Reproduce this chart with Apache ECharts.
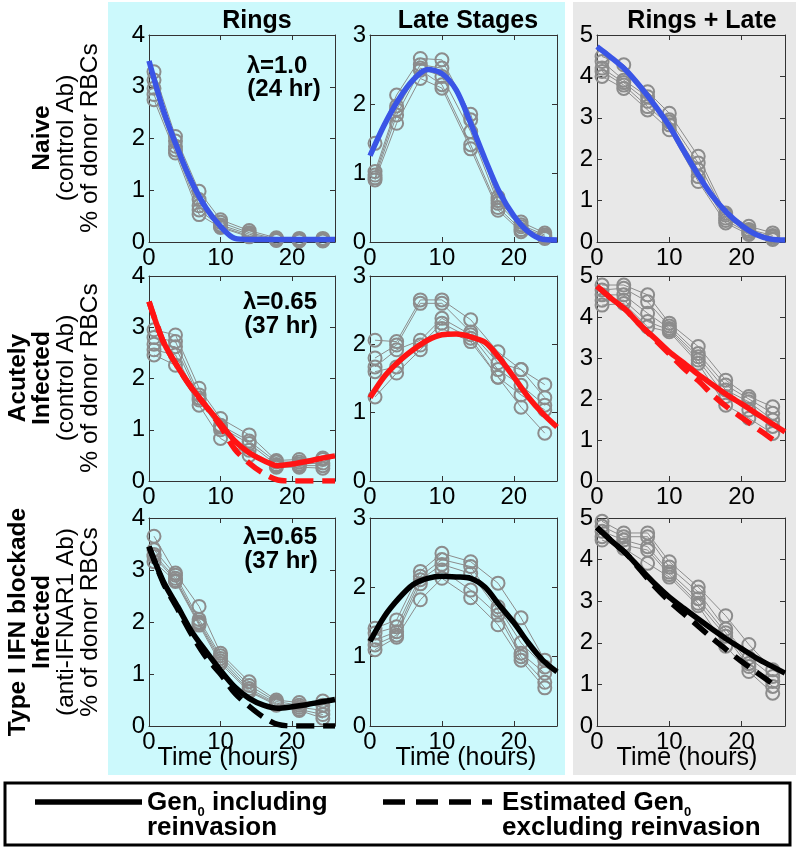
<!DOCTYPE html>
<html><head><meta charset="utf-8">
<script src="https://cdn.jsdelivr.net/npm/echarts@6/dist/echarts.min.js"></script>
<style>html,body{margin:0;padding:0;background:#fff}#c{width:796px;height:848px}</style>
</head><body><div id="c"></div>
<script>
// ---------- data ----------
const sampleTimes = [0.7, 3.7, 7, 10, 14, 17.8, 21, 24.3];
const fitTimes = [0, 2, 4, 6, 8, 10, 12, 14, 16, 18, 20, 22, 24, 26];
const totalDashTimes = [0, 2, 4, 6, 8, 10, 12, 14, 16, 18, 20, 22, 24, 25];
const xTicks = [0, 10, 20];
const yMaxByColumn = [4, 3, 5];
const columnTitles = ['Rings', 'Late Stages', 'Rings + Late'];
const lambdaLabels = [['λ=1.0', '(24 hr)'], ['λ=0.65', '(37 hr)'], ['λ=0.65', '(37 hr)']];

// replicate values: one inner list per sample time (5 mice)
const ringsNaive = [[3.29,3.13,2.97,2.85,2.75],[2.04,1.95,1.85,1.78,1.72],[0.98,0.82,0.70,0.62,0.53],[0.43,0.38,0.33,0.30,0.28],[0.22,0.18,0.15,0.12,0.10],[0.08,0.06,0.05,0.04,0.03],[0.07,0.05,0.04,0.03,0.02],[0.07,0.05,0.04,0.03,0.02]];
const lateNaive = [[1.43,1.02,0.97,0.93,0.90],[2.13,1.97,1.92,1.84,1.72],[2.66,2.57,2.52,2.49,2.37],[2.64,2.52,2.40,2.28,2.23],[1.85,1.77,1.60,1.41,1.35],[0.65,0.60,0.56,0.50,0.46],[0.29,0.25,0.22,0.18,0.15],[0.13,0.10,0.08,0.06,0.05]];
const totalNaive = [[4.48,4.36,4.20,4.12,4.00],[4.28,3.91,3.85,3.79,3.71],[3.63,3.51,3.40,3.27,3.19],[3.11,2.95,2.90,2.83,2.71],[2.07,1.91,1.74,1.58,1.46],[0.70,0.65,0.58,0.52,0.46],[0.38,0.30,0.26,0.22,0.18],[0.22,0.16,0.12,0.08,0.06]];
const ringsAcute = [[2.95,2.80,2.67,2.56,2.46],[2.85,2.72,2.62,2.46,2.26],[1.81,1.68,1.62,1.58,1.48],[1.22,1.09,1.05,1.00,0.83],[0.90,0.78,0.73,0.60,0.50],[0.40,0.37,0.32,0.30,0.27],[0.42,0.37,0.33,0.30,0.27],[0.45,0.42,0.35,0.30,0.25]];
const lateAcute = [[2.06,1.80,1.67,1.60,1.23],[2.04,1.99,1.92,1.67,1.58],[2.65,2.60,2.06,1.99,1.92],[2.65,2.60,2.38,2.31,2.23],[2.36,2.18,2.14,2.09,2.04],[1.89,1.73,1.63,1.52,1.52],[1.63,1.63,1.40,1.26,1.08],[1.41,1.22,1.11,1.04,0.70]];
const totalAcute = [[4.78,4.66,4.54,4.41,4.29],[4.78,4.70,4.54,4.41,4.33],[4.54,4.37,4.09,3.89,3.76],[3.85,3.78,3.72,3.68,3.64],[3.28,3.11,3.03,2.95,2.87],[2.46,2.34,2.22,2.06,1.85],[2.06,2.00,1.93,1.73,1.53],[1.81,1.65,1.49,1.33,1.16]];
const ringsIFN = [[3.65,3.39,3.30,3.26,3.16],[2.94,2.90,2.84,2.80,2.78],[2.30,2.05,2.00,1.97,1.94],[1.40,1.35,1.30,1.25,1.20],[0.85,0.78,0.72,0.68,0.66],[0.50,0.47,0.44,0.42,0.40],[0.45,0.40,0.36,0.32,0.30],[0.48,0.40,0.30,0.22,0.15]];
const lateIFN = [[1.41,1.34,1.24,1.17,1.10],[1.53,1.43,1.36,1.31,1.28],[2.23,2.16,2.11,2.05,1.82],[2.49,2.40,2.33,2.25,2.13],[2.37,2.30,2.20,1.96,1.85],[2.06,1.72,1.67,1.60,1.46],[1.56,1.20,1.05,1.00,0.95],[0.95,0.85,0.76,0.63,0.55]];
const totalIFN = [[4.92,4.80,4.68,4.55,4.47],[4.64,4.55,4.47,4.35,4.27],[4.64,4.55,4.31,4.23,3.91],[3.95,3.82,3.70,3.64,3.58],[3.34,3.22,3.06,2.95,2.89],[2.65,2.33,2.24,2.16,1.92],[1.96,1.64,1.50,1.43,1.31],[1.35,1.19,1.07,0.95,0.79]];

// model curves (Gen0 including reinvasion) at fitTimes
const ringsNaiveFit = [3.50,2.55,1.80,1.15,0.65,0.30,0.07,0.05,0.05,0.05,0.05,0.05,0.05,0.05];
const lateNaiveFit = [1.25,1.70,2.07,2.35,2.50,2.44,2.20,1.72,1.20,0.72,0.38,0.15,0.04,0.03];
const totalNaiveFit = [4.72,4.45,4.15,3.75,3.30,2.80,2.20,1.62,1.10,0.70,0.40,0.18,0.07,0.05];
const ringsAcuteFit = [3.50,2.72,2.23,1.81,1.46,1.12,0.78,0.55,0.40,0.30,0.33,0.38,0.44,0.49];
const lateAcuteFit = [1.22,1.53,1.75,1.92,2.06,2.14,2.15,2.11,2.03,1.80,1.52,1.23,0.99,0.79];
const totalAcuteFit = [4.75,4.45,4.17,3.80,3.48,3.15,2.88,2.60,2.35,2.10,1.88,1.65,1.42,1.20];
const ringsIFNFit = [3.45,2.78,2.30,1.81,1.43,1.07,0.75,0.53,0.40,0.34,0.37,0.41,0.46,0.51];
const lateIFNFit = [1.22,1.58,1.84,2.04,2.13,2.16,2.15,2.13,2.00,1.74,1.49,1.20,0.95,0.78];
const totalIFNFit = [4.77,4.45,4.15,3.78,3.42,3.10,2.83,2.57,2.32,2.08,1.86,1.64,1.45,1.27];
// estimated Gen0 excluding reinvasion (dashed)
const ringsAcuteDash = [3.50,2.72,2.23,1.80,1.45,1.07,0.62,0.35,0.15,0.02,0,0,0,0];
const totalAcuteDash = [4.75,4.45,4.17,3.80,3.45,3.10,2.75,2.45,2.10,1.80,1.55,1.30,1.05,0.92];
const ringsIFNDash = [3.45,2.75,2.25,1.75,1.32,1.00,0.63,0.38,0.17,0.03,0,0,0,0];
const totalIFNDash = [4.77,4.45,4.15,3.75,3.35,3.00,2.70,2.40,2.10,1.82,1.55,1.30,1.05,0.90];

// ---------- layout ----------
const colLeft = [149, 370, 597];
const colWidth = [186, 187, 188];
const rowTop = [35, 276, 518];
const rowHeight = [207, 205, 208];
const rowColors = ['#3a55e6', '#ff1414', '#000000'];
const FONT = '"Liberation Sans", Arial, Helvetica, sans-serif';

const panels = [
  {reps: ringsNaive, fit: ringsNaiveFit},
  {reps: lateNaive, fit: lateNaiveFit},
  {reps: totalNaive, fit: totalNaiveFit},
  {reps: ringsAcute, fit: ringsAcuteFit, dash: ringsAcuteDash, dashTimes: fitTimes},
  {reps: lateAcute, fit: lateAcuteFit},
  {reps: totalAcute, fit: totalAcuteFit, dash: totalAcuteDash, dashTimes: totalDashTimes},
  {reps: ringsIFN, fit: ringsIFNFit, dash: ringsIFNDash, dashTimes: fitTimes},
  {reps: lateIFN, fit: lateIFNFit},
  {reps: totalIFN, fit: totalIFNFit, dash: totalIFNDash, dashTimes: totalDashTimes}
];

const grids = [], xAxes = [], yAxes = [], series = [];
const axisLineStyle = {show: true, onZero: false, lineStyle: {color: '#333', width: 1}};
const tickStyle = {show: true, inside: true, length: 5, lineStyle: {color: '#333', width: 1}};
panels.forEach((p, k) => {
  const row = Math.floor(k / 3), col = k % 3;
  grids.push({left: colLeft[col], top: rowTop[row], width: colWidth[col], height: rowHeight[row], show: false, containLabel: false});
  const xBase = {type: 'value', gridIndex: k, min: 0, max: 26, interval: 10, splitLine: {show: false}, axisLine: axisLineStyle};
  xAxes.push(Object.assign({}, xBase, {position: 'bottom',
    axisTick: Object.assign({customValues: xTicks}, tickStyle),
    axisLabel: {customValues: xTicks, margin: 4, color: '#000', fontSize: 24, fontFamily: FONT,
      formatter: v => (v % 10 === 0 ? String(v) : '')}}));
  xAxes.push(Object.assign({}, xBase, {position: 'top',
    axisTick: Object.assign({customValues: xTicks}, tickStyle), axisLabel: {show: false}}));
  const yBase = {type: 'value', gridIndex: k, min: 0, max: yMaxByColumn[col], interval: 1, splitLine: {show: false}, axisLine: axisLineStyle};
  yAxes.push(Object.assign({}, yBase, {position: 'left', axisTick: tickStyle,
    axisLabel: {margin: 4, color: '#000', fontSize: 24, fontFamily: FONT}}));
  yAxes.push(Object.assign({}, yBase, {position: 'right', axisTick: tickStyle, axisLabel: {show: false}}));

  const nRep = p.reps[0].length;
  for (let r = 0; r < nRep; r++) {
    series.push({type: 'line', xAxisIndex: 2 * k, yAxisIndex: 2 * k, z: 2,
      data: sampleTimes.map((t, i) => [t, p.reps[i][r]]),
      symbol: 'circle', symbolSize: 13, showSymbol: true,
      itemStyle: {color: 'rgba(0,0,0,0)', borderColor: '#8c8c8c', borderWidth: 2},
      lineStyle: {color: '#8c8c8c', width: 1}, emphasis: {disabled: true}, silent: true});
  }
  if (p.dash) {
    series.push({type: 'line', xAxisIndex: 2 * k, yAxisIndex: 2 * k, z: 4,
      data: p.dashTimes.map((t, i) => [t, p.dash[i]]), symbol: 'none', smooth: 0.3,
      lineStyle: {color: rowColors[row], width: 5.5, type: [18, 9], cap: 'butt'}, silent: true});
  }
  series.push({type: 'line', xAxisIndex: 2 * k, yAxisIndex: 2 * k, z: 5,
    data: fitTimes.map((t, i) => [t, p.fit[i]]), symbol: 'none', smooth: 0.3,
    lineStyle: {color: rowColors[row], width: 5.5}, silent: true});
});

// ---------- decorations / text ----------
function txt(text, x, y, size, bold, opts) {
  return Object.assign({type: 'text', x: x, y: y, silent: true, z: 10,
    style: {text: text, fill: '#000', font: (bold ? 'bold ' : '') + size + 'px ' + FONT,
      textAlign: 'center', textVerticalAlign: 'middle'}}, opts || {});
}
const graphics = [
  {type: 'rect', shape: {x: 108, y: 2, width: 457, height: 773}, style: {fill: '#ccf9fc'}, z: -10, silent: true},
  {type: 'rect', shape: {x: 573, y: 2, width: 223, height: 773}, style: {fill: '#e8e8e8'}, z: -10, silent: true},
  {type: 'rect', shape: {x: 5, y: 783, width: 785, height: 62}, style: {fill: '#fff', stroke: '#000', lineWidth: 3}, z: -10, silent: true}
];
const titleX = [257, 468, 702];
columnTitles.forEach((t, i) => graphics.push(txt(t, titleX[i], 21, 25, true)));
const lamY = [[66, 89], [302, 326], [537, 561]];
const lamX = [[277, 284], [280, 281], [280, 281]];
lambdaLabels.forEach((pair, r) => {
  graphics.push(txt(pair[0], lamX[r][0], lamY[r][0], 24, true));
  graphics.push(txt(pair[1], lamX[r][1], lamY[r][1], 24, true));
});
const rowLabelLines = [
  [['Naive', true], ['(control Ab)', false], ['% of donor RBCs', false]],
  [['Acutely', true], ['Infected', true], ['(control Ab)', false], ['% of donor RBCs', false]],
  [['Type I IFN blockade', true], ['Infected', true], ['(anti-IFNAR1 Ab)', false], ['% of donor RBCs', false]]
];
const rowMid = [138, 378, 622];
rowLabelLines.forEach((lines, r) => {
  const n = lines.length;
  lines.forEach((ln, j) => {
    const x = 90 - (n - 1 - j) * 24;
    graphics.push(txt(ln[0], x, rowMid[r], 24.5, ln[1], {rotation: Math.PI / 2}));
  });
});
const timeX = [228, 466, 687];
timeX.forEach(x => graphics.push(txt('Time (hours)', x, 758, 25, false)));

// legend
graphics.push({type: 'line', shape: {x1: 35, y1: 802, x2: 142, y2: 802}, style: {stroke: '#000', lineWidth: 5.5}, z: 10, silent: true});
graphics.push({type: 'line', shape: {x1: 383, y1: 802, x2: 492, y2: 802}, style: {stroke: '#000', lineWidth: 5.5, lineDash: [22, 11]}, z: 10, silent: true});
const mctx = document.createElement('canvas').getContext('2d');
function w(text, font) { mctx.font = font; return mctx.measureText(text).width; }
function legendLine(parts, x0, y) {
  let x = x0;
  parts.forEach(pt => {
    const f = 'bold ' + pt.size + 'px ' + FONT;
    graphics.push({type: 'text', x: x, y: y + (pt.dy || 0), z: 10, silent: true,
      style: {text: pt.t, fill: '#000', font: f, textAlign: 'left', textVerticalAlign: 'middle'}});
    x += w(pt.t, f);
  });
}
legendLine([{t: 'Gen', size: 26}, {t: '0', size: 13, dy: 9}, {t: ' including', size: 26}], 147, 803);
legendLine([{t: 'reinvasion', size: 26}], 147, 828);
legendLine([{t: 'Estimated Gen', size: 26}, {t: '0', size: 13, dy: 9}], 502, 803);
legendLine([{t: 'excluding reinvasion', size: 26}], 502, 828);

const chart = echarts.init(document.getElementById('c'), null, {renderer: 'canvas'});
chart.setOption({
  animation: false,
  backgroundColor: '#ffffff',
  grid: grids, xAxis: xAxes, yAxis: yAxes, series: series,
  graphic: {elements: graphics}
});
</script></body></html>
